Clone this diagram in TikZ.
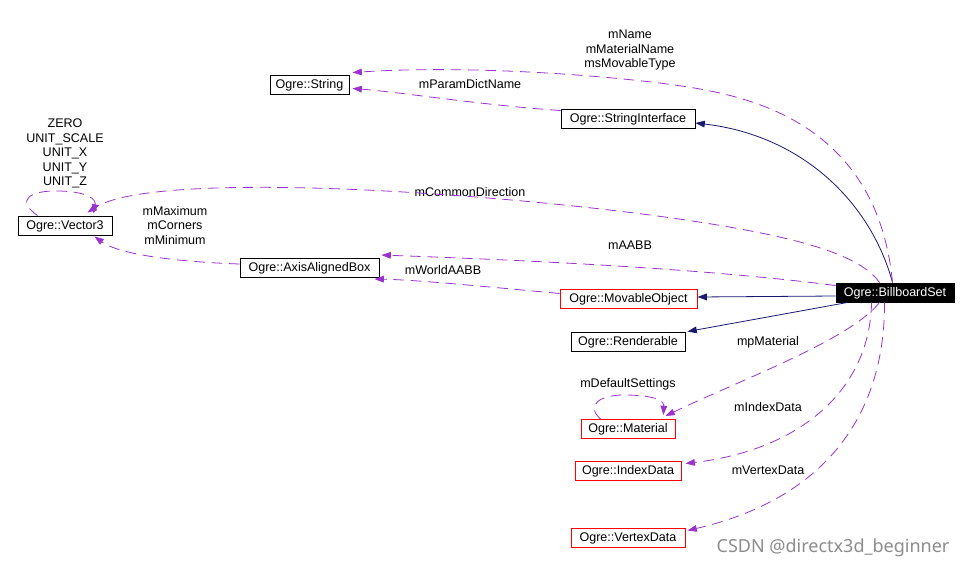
\documentclass[tikz,border=0pt]{standalone}
\usepackage{fontspec}
\setmainfont{Liberation Sans}
\newfontfamily\wmfont{Noto Sans}
\usetikzlibrary{arrows.meta,calc}
\definecolor{dep}{HTML}{9A32CD}
\definecolor{inh}{HTML}{191970}
\definecolor{wm}{HTML}{8C8C8C}
\begin{document}
\begin{tikzpicture}[x=0.75pt,y=-0.75pt,
  every node/.style={font=\fontsize{9.4}{10.9}\selectfont},
  cls/.style={draw=black,line width=0.7pt,rectangle,inner sep=0pt,minimum height=14.25pt,minimum width=#1*0.75pt,text height=7pt,text depth=1.6pt},
  rcls/.style={cls=#1,draw=red},
  lbl/.style={align=center,inner sep=0pt},
  depline/.style={draw=dep,line width=0.6pt,dash pattern=on 8pt off 5pt,-{Triangle[length=7pt,width=5pt]},fill=none},
  inhline/.style={draw=inh,line width=0.6pt,-{Triangle[length=7pt,width=5pt]}}]
\useasboundingbox (0,0) rectangle (972,568);
% nodes
\node[cls=79] (str) at (309.5,84.5) {Ogre::String};
\node[cls=134] (si) at (628,118.5) {Ogre::StringInterface};
\node[cls=94] (v3) at (65,225.5) {Ogre::Vector3};
\node[cls=139] (aab) at (309.5,268) {Ogre::AxisAlignedBox};
\node[rcls=137] (mo) at (628.5,298.5) {Ogre::MovableObject};
\node[cls=118,fill=black,text=white] (bb) at (895,292.5) {Ogre::BillboardSet};
\node[cls=114] (rend) at (628,341.5) {Ogre::Renderable};
\node[rcls=94] (mat) at (628,429) {Ogre::Material};
\node[rcls=106] (idx) at (628,470.5) {Ogre::IndexData};
\node[rcls=114] (vd) at (628,537.5) {Ogre::VertexData};
% labels
\node[lbl] (l1) at (630,50) {mName\\mMaterialName\\msMovableType};
\node[lbl] (l2) at (470,84) {mParamDictName};
\node[lbl] (l3) at (65,153.5) {ZERO\\UNIT\_SCALE\\UNIT\_X\\UNIT\_Y\\UNIT\_Z};
\node[lbl] (l4) at (175,225.5) {mMaximum\\mCorners\\mMinimum};
\node[lbl] (l5) at (470,192) {mCommonDirection};
\node[lbl] (l6) at (630,245) {mAABB};
\node[lbl] (l7) at (443,270) {mWorldAABB};
\node[lbl] (l8) at (768,342) {mpMaterial};
\node[lbl] (l9) at (628,384) {mDefaultSettings};
\node[lbl] (l10) at (768,407) {mIndexData};
\node[lbl] (l11) at (768,470) {mVertexData};
\node[lbl,text=wm,font=\wmfont\fontsize{13.5}{14}\selectfont] (wmk) at (833,548) {CSDN @directx3d\_beginner};
% inheritance
\draw[inhline] ($(bb.north west)+(57,0)$) .. controls (870,200) and (800,135) .. ($(si.east)+(0,4.5)$);
\draw[inhline] ($(bb.west)+(0,3.5)$) -- ($(mo.east)+(0,-1.5)$);
\draw[inhline] ($(bb.south west)+(12,0)$) -- ($(rend.north east)+(2,0)$);
% dependencies
\draw[depline] ($(bb.north west)+(57,0)$) .. controls (878,130) and (760,100) .. (700,89) .. controls (640,78) and (480,64) .. ($(str.north east)+(3,-2)$);
\draw[depline] ($(si.north west)+(0,2)$) .. controls (480,105) and (400,92) .. ($(str.east)+(3,4)$);
\draw[depline] ($(bb.north west)+(44,0)$) .. controls (860,255) and (800,235) .. (650,215) .. controls (450,189) and (150,172) .. ($(v3.north east)+(-25,-3)$);
\draw[depline] (v3.north west) ++(20,0) .. controls (15,200) and (30,190) .. (60,191) .. controls (90,192) and (96,200) .. ($(v3.north east)+(-19,-2)$);
\draw[depline] ($(aab.west)+(0,-4)$) .. controls (180,262) and (120,255) .. ($(v3.south east)+(-18,1)$);
\draw[depline] ($(bb.north west)+(0,3)$) .. controls (700,268) and (520,260) .. ($(aab.north east)+(2,-3)$);
\draw[depline] ($(mo.west)+(0,-5)$) .. controls (500,288) and (420,280) .. ($(aab.south east)+(-5,1)$);
\draw[depline] ($(bb.south west)+(44,0)$) .. controls (850,340) and (740,380) .. ($(mat.north east)+(-10,-3)$);
\draw[depline] ($(mat.north west)+(20,0)$) .. controls (585,405) and (600,394) .. (628,395) .. controls (660,396) and (664,402) .. ($(mat.north east)+(-12,-4)$);
\draw[depline] ($(bb.south west)+(36,0)$) .. controls (870,390) and (800,450) .. ($(idx.east)+(4,-7)$);
\draw[depline] ($(bb.south west)+(49,0)$) .. controls (885,420) and (820,500) .. ($(vd.east)+(2,-7)$);
\end{tikzpicture}
\end{document}
